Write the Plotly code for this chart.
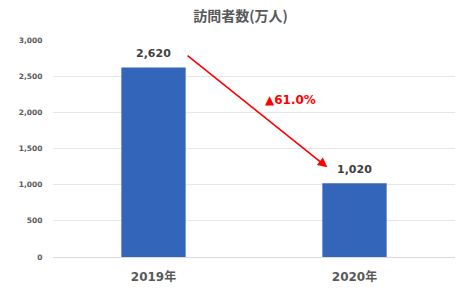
import plotly.graph_objects as go

categories = ["2019年", "2020年"]
visitors = [2620, 1020]
value_labels = ["2,620", "1,020"]
change_label = "▲61.0%"
y_ticks = [0, 500, 1000, 1500, 2000, 2500, 3000]
y_tick_labels = ["0", "500", "1,000", "1,500", "2,000", "2,500", "3,000"]

FONT = "DejaVu Sans, Noto Sans CJK JP"

fig = go.Figure()
fig.add_trace(go.Bar(
    x=[0, 1], y=visitors,
    marker=dict(color="#3366BB", line=dict(width=0)),
    width=0.32, hoverinfo="skip",
))

for i, (v, lab) in enumerate(zip(visitors, value_labels)):
    fig.add_annotation(
        x=i, y=v, xref="x", yref="y", text="<b>" + lab + "</b>",
        showarrow=False, yanchor="bottom", yshift=5,
        font=dict(family=FONT, size=11, color="#404040"),
    )

# arrow
fig.add_annotation(
    x=0.865, y=1240, ax=0.162, ay=2800,
    xref="x", yref="y", axref="x", ayref="y",
    showarrow=True, arrowhead=2, arrowsize=1.2, arrowwidth=1.6,
    arrowcolor="#FF0000", text="",
)
fig.add_annotation(
    x=0.68, y=2170, xref="x", yref="y", text="<b>" + change_label + "</b>",
    showarrow=False, font=dict(family=FONT, size=12, color="#FF0000"),
)

fig.update_layout(
    width=467, height=298,
    margin=dict(l=53, r=12, t=40, b=41),
    paper_bgcolor="white", plot_bgcolor="white",
    title=dict(text="<b>訪問者数(万人)</b>", x=0.515, xanchor="center", y=0.945, yanchor="middle",
               font=dict(family="Noto Sans CJK JP", size=14, color="#595959")),
    showlegend=False,
    xaxis=dict(
        tickmode="array", tickvals=[0, 1], ticktext=["<b>" + c + "</b>" for c in categories],
        range=[-0.5, 1.5], showgrid=False, zeroline=False,
        showline=True, linecolor="#D9D9D9", linewidth=1,
        tickfont=dict(family=FONT, size=12, color="#595959"),
        ticks="outside", tickcolor="white", ticklen=9,
    ),
    yaxis=dict(
        range=[0, 3000], tickmode="array", tickvals=y_ticks,
        ticktext=["<b>" + t + "</b>" for t in y_tick_labels],
        showgrid=True, gridcolor="#E6E6E6", gridwidth=1,
        zeroline=False, showline=False,
        tickfont=dict(family=FONT, size=7.5, color="#595959"),
        ticks="outside", tickcolor="white", ticklen=8,
    ),
    font=dict(family=FONT),
)

fig.write_html("out.html")
